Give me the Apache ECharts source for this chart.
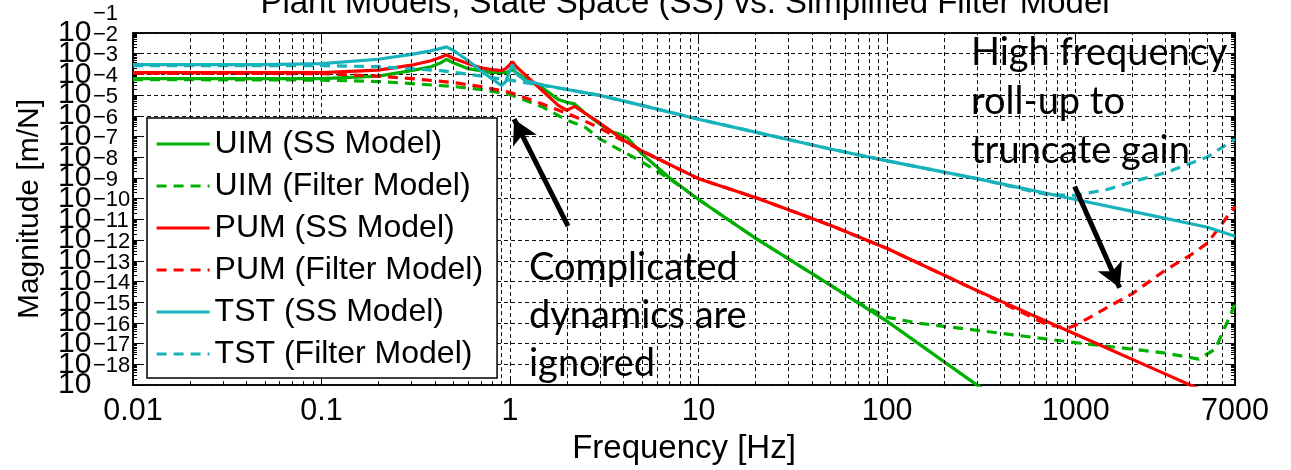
<!DOCTYPE html>
<html><head><meta charset="utf-8">
<script src="https://cdn.jsdelivr.net/npm/echarts@6/dist/echarts.min.js"></script>
<style>html,body{margin:0;padding:0;background:#fff}#c{width:1291px;height:470px}</style>
</head><body><div id="c"></div><script>
// ---- data (Hz, m/N) ----
const freqUimSS = [0.01,0.1,0.2,0.3,0.38,0.43,0.46,0.5,0.6,0.8,0.95,1.03,1.08,1.2,1.5,1.8,2.0,2.2,2.5,3,3.5,3.8,4.2,5,7,10,20,50,100,300,500];
const magUimSS  = [6.30e-4,6.30e-4,8.30e-4,1.52e-3,2.36e-3,3.67e-3,5.40e-3,3.67e-3,1.90e-3,1.22e-3,1.22e-3,1.70e-3,1.22e-3,6.30e-4,2.09e-4,6.22e-5,4.48e-5,3.79e-5,1.33e-5,3.96e-6,1.64e-6,1.32e-6,8.47e-7,1.46e-7,1.03e-8,9.16e-10,1.25e-11,6.73e-14,1.19e-15,1.0e-18,4.7e-20];
const freqUimFilt = [0.01,0.1,0.2,0.3,0.5,0.7,1.0,1.5,2.0,2.5,3,4,5,7,10,20,50,70,100,150,300,1000,2000,3000,4500,5500,7000];
const magUimFilt  = [5.64e-4,5.33e-4,4.53e-4,3.63e-4,2.61e-4,1.88e-4,1.08e-4,2.58e-5,6.15e-6,2.85e-6,7.59e-7,1.81e-7,6.03e-8,9.26e-9,9.16e-10,1.25e-11,6.73e-14,9.68e-15,1.86e-15,9.5e-16,4.43e-16,1.12e-16,5.46e-17,3.51e-17,1.81e-17,5.46e-17,7.76e-15];
const freqPumSS = [0.01,0.1,0.2,0.3,0.38,0.43,0.46,0.5,0.6,0.7,0.8,0.9,0.95,1.03,1.08,1.2,1.5,1.8,2.0,2.2,2.5,3,4,5,10,20,50,100,300,1000,3000,7000];
const magPumSS  = [1.22e-3,1.22e-3,1.61e-3,2.79e-3,4.57e-3,6.72e-3,8.86e-3,6.03e-3,3.29e-3,2.11e-3,1.70e-3,1.52e-3,1.90e-3,4.09e-3,2.36e-3,9.77e-4,1.50e-4,3.22e-5,1.85e-5,2.88e-5,1.33e-5,4.42e-6,6.80e-7,2.02e-7,9.26e-9,1.14e-9,5.22e-11,3.92e-12,3.63e-14,2.85e-16,3.39e-18,1.10e-19];
const freqPumFilt = [0.01,0.1,0.2,0.3,0.5,0.7,1.0,1.5,2.0,2.5,3,3.5,5,10,20,50,100,300,700,900,1000,1500,2000,3000,4000,5000,7000];
const magPumFilt  = [1.15e-3,1.09e-3,8.30e-4,6.30e-4,4.05e-4,2.61e-4,1.35e-4,3.59e-5,1.33e-5,5.52e-6,2.55e-6,1.18e-6,2.02e-7,9.26e-9,1.14e-9,5.22e-11,3.92e-12,3.63e-14,8.57e-16,5.52e-16,7.67e-16,6.22e-15,2.61e-14,3.67e-13,1.71e-12,7.18e-12,4.24e-10];
const freqTstSS = [0.01,0.05,0.1,0.2,0.3,0.38,0.43,0.46,0.5,0.6,0.7,0.8,0.9,0.95,1.0,1.03,1.08,1.2,1.5,2,3,5,10,20,50,100,300,1000,2000,5000,7000];
const magTstSS  = [2.94e-3,2.94e-3,3.29e-3,5.40e-3,9.36e-3,1.38e-2,1.81e-2,2.14e-2,1.46e-2,4.57e-3,1.52e-3,6.30e-4,2.91e-4,4.53e-4,1.70e-3,2.94e-3,1.09e-3,5.05e-4,3.08e-4,1.88e-4,9.68e-5,3.22e-5,6.87e-6,1.64e-6,2.52e-7,6.73e-8,9.26e-9,9.16e-10,2.44e-10,4.19e-11,1.55e-11];
const freqTstFilt = [0.01,0.1,0.2,0.3,0.43,0.6,0.8,1.0,1.2,1.5,2,3,5,10,20,50,100,300,700,1000,1500,2000,3000,5000,7000];
const magTstFilt  = [2.64e-3,2.64e-3,2.36e-3,1.90e-3,1.52e-3,1.03e-3,7.03e-4,5.33e-4,4.05e-4,2.91e-4,1.88e-4,9.68e-5,3.22e-5,6.87e-6,1.64e-6,2.52e-7,6.73e-8,9.26e-9,1.59e-9,1.45e-9,2.91e-9,6.65e-9,1.79e-8,1.04e-7,7.59e-7];

const seriesNames = ['UIM (SS Model)','UIM (Filter Model)','PUM (SS Model)','PUM (Filter Model)','TST (SS Model)','TST (Filter Model)'];
const xMinorGrid = [0.02,0.03,0.04,0.05,0.06,0.07,0.08,0.09,0.2,0.3,0.4,0.5,0.6,0.7,0.8,0.9,2,3,4,5,6,7,8,9,20,30,40,50,60,70,80,90,200,300,400,500,600,700,800,900,2000,3000,4000,5000,6000];
// annotation arrows: [fromFreq, fromMag, toFreq, toMag]
const arrow1 = [2.03, 4.68e-11, 1.05, 6.87e-6];
const arrow2 = [988, 3.84e-9, 1710, 5.05e-14];

const GREEN = '#00b000', RED = '#ff0000', CYAN = '#17b2ba';
const FONT = '"Liberation Sans", Arial, Helvetica, sans-serif';
const DASH = [10, 7];

function pairs(f, m) { return f.map((v, i) => [v, m[i]]); }
function mk(name, f, m, color, dashed) {
  return { name, type: 'line', data: pairs(f, m), symbol: 'none', showSymbol: false, z: 3,
    lineStyle: { color, width: 3.2, type: dashed ? DASH : 'solid' }, itemStyle: { color }, animation: false };
}
const gridStyle = { color: '#000', width: 1, type: [4, 3], opacity: 0.95 };
const logY = { type: 'log', logBase: 10, min: 1e-18, max: 1e-1, interval: 1 };
const logX = { type: 'log', logBase: 10, min: 0.01, max: 7000, interval: 1 };
const tickStyle = { show: true, inside: true, length: 7, lineStyle: { color: '#000' } };

// y tick labels "10^-k": split over label-only axes by parity so neighbouring labels never collide
function labelAxis(parity, kind) {
  const isBase = kind === 'base';
  return Object.assign({}, logY, {
    position: 'left', offset: 0,
    axisLine: { show: false }, axisTick: { show: false }, splitLine: { show: false },
    axisLabel: {
      margin: isBase ? 75 : 40, align: 'left', verticalAlign: isBase ? 'middle' : 'bottom',
      showMinLabel: parity === 0, showMaxLabel: parity === 1,
      formatter: v => {
        const k = -Math.round(Math.log10(v));
        if (k % 2 !== parity) return '';
        return isBase ? '{b|10}' : '{e|\u2212' + k + '}\n{s| }';
      },
      rich: {
        b: { fontSize: 30, fontFamily: FONT, color: '#000', lineHeight: 18 },
        e: { fontSize: 22, fontFamily: FONT, color: '#000', lineHeight: 2 },
        s: { fontSize: 8, fontFamily: FONT, color: '#000', lineHeight: 18 }
      }
    }
  });
}

const chart = echarts.init(document.getElementById('c'));
chart.setOption({
  animation: false,
  grid: { left: 133, right: 56, top: 33, bottom: 82, show: true, borderColor: '#000', borderWidth: 1.5, backgroundColor: '#fff' },
  legend: {
    data: seriesNames, orient: 'vertical', left: 147, top: 118,
    backgroundColor: '#fff', borderColor: '#000', borderWidth: 1.5, borderRadius: 0,
    padding: [10, 14, 8, 8], itemGap: 10, itemWidth: 53, itemHeight: 14,
    itemStyle: { opacity: 0 }, lineStyle: { width: 3.2 },
    textStyle: { fontSize: 32, fontFamily: FONT, color: '#000', lineHeight: 32 }, z: 6
  },
  xAxis: [Object.assign({}, logX, {
    name: 'Frequency [Hz]', nameLocation: 'middle', nameGap: 42,
    nameTextStyle: { fontSize: 33, fontFamily: FONT, color: '#000' },
    axisLine: { show: true, lineStyle: { color: '#000', width: 1.5 } },
    axisTick: tickStyle,
    axisLabel: { fontSize: 30.5, fontFamily: FONT, color: '#000', margin: 11,
      formatter: v => String(+(+v).toPrecision(3)) },
    splitLine: { show: true, lineStyle: gridStyle }
  }), Object.assign({}, logX, {
    position: 'top',
    axisLine: { show: true, lineStyle: { color: '#000', width: 1.5 } },
    axisTick: tickStyle, axisLabel: { show: false }, splitLine: { show: false }
  })],
  yAxis: [Object.assign({}, logY, {
    name: 'Magnitude [m/N]', nameLocation: 'middle', nameGap: 88, nameRotate: 90,
    nameTextStyle: { fontSize: 30, fontFamily: FONT, color: '#000' },
    axisLine: { show: true, lineStyle: { color: '#000', width: 1.5 } },
    axisTick: tickStyle,
    minorTick: { show: true, splitNumber: 9, length: 4, lineStyle: { color: '#000' } },
    axisLabel: { show: false },
    splitLine: { show: true, lineStyle: gridStyle }
  }), Object.assign({}, logY, {
    position: 'right',
    axisLine: { show: true, lineStyle: { color: '#000', width: 1.5 } },
    axisTick: tickStyle,
    minorTick: { show: true, splitNumber: 9, length: 4, lineStyle: { color: '#000' } },
    axisLabel: { show: false }, splitLine: { show: false }
  }),
  labelAxis(0, 'base'), labelAxis(1, 'base'), labelAxis(0, 'exp'), labelAxis(1, 'exp')],
  series: [
    { name: '_grid', type: 'line', data: [[1, 1e-10]], symbol: 'none', lineStyle: { opacity: 0 }, z: 1, silent: true,
      markLine: { silent: true, symbol: ['none', 'none'], label: { show: false }, lineStyle: gridStyle, animation: false,
        data: xMinorGrid.map(v => ({ xAxis: v })) } },
    mk(seriesNames[0], freqUimSS, magUimSS, GREEN, false),
    mk(seriesNames[1], freqUimFilt, magUimFilt, GREEN, true),
    mk(seriesNames[2], freqPumSS, magPumSS, RED, false),
    mk(seriesNames[3], freqPumFilt, magPumFilt, RED, true),
    mk(seriesNames[4], freqTstSS, magTstSS, CYAN, false),
    mk(seriesNames[5], freqTstFilt, magTstFilt, CYAN, true),
    { name: '_arrows', type: 'line', data: [[1, 1e-10]], symbol: 'none', lineStyle: { opacity: 0 }, z: 5, silent: true,
      markLine: { silent: true, symbol: ['none', 'arrow'], symbolSize: [20, 24], label: { show: false }, animation: false,
        lineStyle: { color: '#000', width: 5, type: 'solid' },
        data: [
          [{ coord: [arrow1[0], arrow1[1]] }, { coord: [arrow1[2], arrow1[3]] }],
          [{ coord: [arrow2[0], arrow2[1]] }, { coord: [arrow2[2], arrow2[3]] }]
        ] } }
  ],
  graphic: [
    { type: 'text', x: 685, y: 20, z: 10, style: { text: 'Plant Models, State Space (SS) vs. Simplified Filter Model', fontSize: 33, fontFamily: FONT, fill: '#000', align: 'center', verticalAlign: 'bottom' } },
    { type: 'text', x: 529, y: 268, z: 10, style: { text: 'Complicated', fontSize: 38, fontFamily: 'Lato', fill: '#000', align: 'left', verticalAlign: 'middle' } },
    { type: 'text', x: 529, y: 316, z: 10, style: { text: 'dynamics are', fontSize: 38, fontFamily: 'Lato', fill: '#000', align: 'left', verticalAlign: 'middle' } },
    { type: 'text', x: 529, y: 364, z: 10, style: { text: 'ignored', fontSize: 38, fontFamily: 'Lato', fill: '#000', align: 'left', verticalAlign: 'middle' } },
    { type: 'text', x: 971, y: 53, z: 10, style: { text: 'High frequency', fontSize: 38, fontFamily: 'Lato', fill: '#000', align: 'left', verticalAlign: 'middle' } },
    { type: 'text', x: 971, y: 102, z: 10, style: { text: 'roll-up to', fontSize: 38, fontFamily: 'Lato', fill: '#000', align: 'left', verticalAlign: 'middle' } },
    { type: 'text', x: 971, y: 151, z: 10, style: { text: 'truncate gain', fontSize: 38, fontFamily: 'Lato', fill: '#000', align: 'left', verticalAlign: 'middle' } }
  ]
});
</script></body></html>
